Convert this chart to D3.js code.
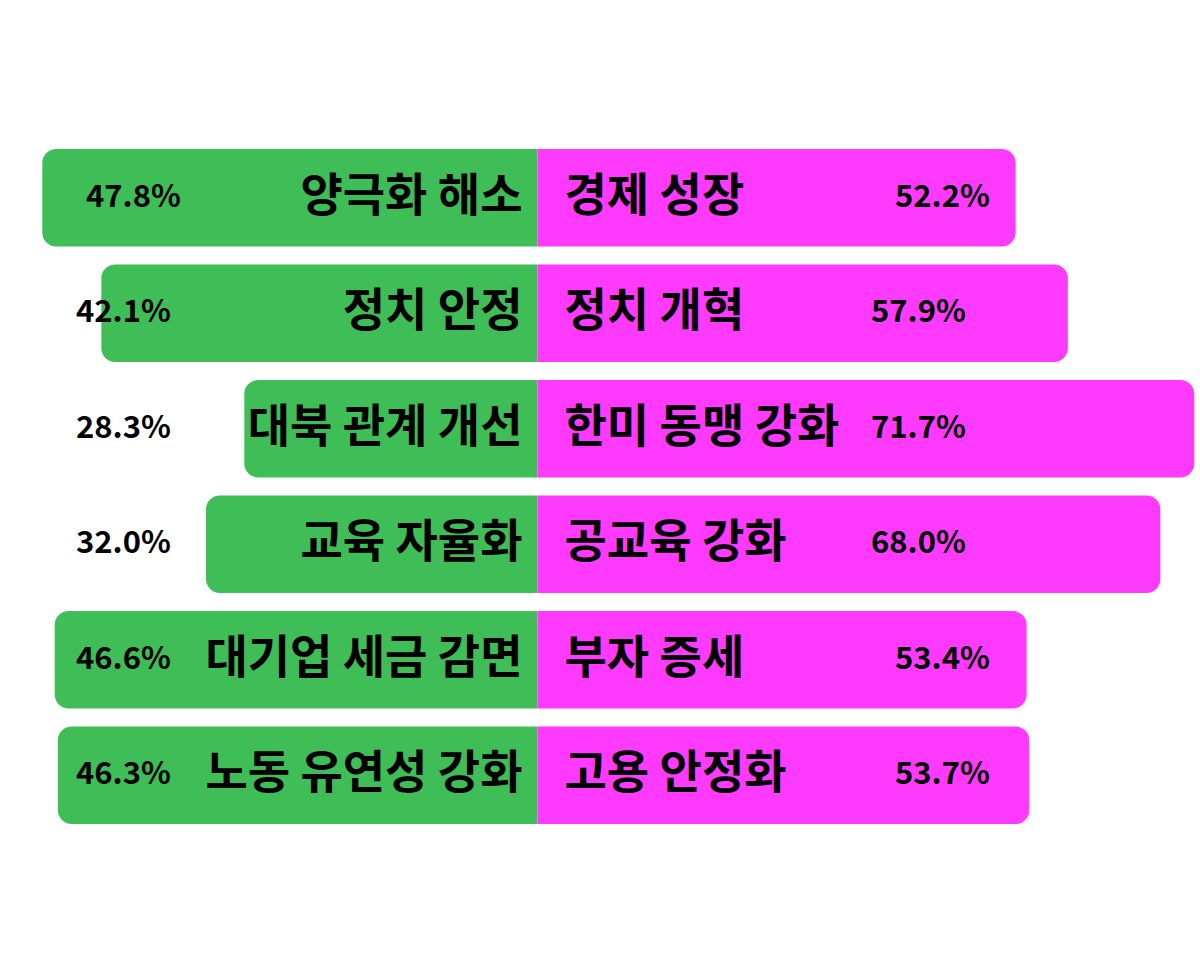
<!DOCTYPE html>
<html>
<head>
<meta charset="utf-8">
<script src="https://cdn.jsdelivr.net/npm/d3@7"></script>
<style>
  body { margin: 0; background: #fff; }
  text { font-family: "Noto Sans CJK KR", "Noto Sans", sans-serif; font-weight: 700; fill: #000; }
</style>
</head>
<body>
<svg></svg>
<script>
// left side (green) and right side (magenta) categories and shares
let leftLabels = ["양극화 해소", "정치 안정", "대북 관계 개선", "교육 자율화", "대기업 세금 감면", "노동 유연성 강화"];
let rightLabels = ["경제 성장", "정치 개혁", "한미 동맹 강화", "공교육 강화", "부자 증세", "고용 안정화"];
let leftValues = [47.8, 42.1, 28.3, 32.0, 46.6, 46.3];
let rightValues = [52.2, 57.9, 71.7, 68.0, 53.4, 53.7];

let width = 1200;
let height = 979;
let center = 537.5;
let radius = 14;

let svg = d3.select("svg").attr("width", width).attr("height", height);

let rows = d3.range(leftLabels.length);

let yScale = d3.scaleBand()
  .domain(rows)
  .range([149, 824])
  .paddingInner(0.156)
  .paddingOuter(0);

let leftScale = d3.scaleLinear().domain([0, 50]).range([0, 518]);
let rightScale = d3.scaleLinear().domain([0, 75]).range([0, 687]);

// rect with rounded corners only on the outer side
let halfRound = (x0, x1, y, h, r, side) => {
  let p = d3.path();
  if (side === "left") {
    p.moveTo(x1, y);
    p.lineTo(x0 + r, y);
    p.arcTo(x0, y, x0, y + r, r);
    p.lineTo(x0, y + h - r);
    p.arcTo(x0, y + h, x0 + r, y + h, r);
    p.lineTo(x1, y + h);
  } else {
    p.moveTo(x0, y);
    p.lineTo(x1 - r, y);
    p.arcTo(x1, y, x1, y + r, r);
    p.lineTo(x1, y + h - r);
    p.arcTo(x1, y + h, x1 - r, y + h, r);
    p.lineTo(x0, y + h);
  }
  p.closePath();
  return p.toString();
};

svg.selectAll(".bar-left")
  .data(rows)
  .enter()
  .append("path")
  .attr("class", "bar-left")
  .attr("fill", "#3fbd57")
  .attr("d", (i) => halfRound(center - leftScale(leftValues[i]), center, yScale(i), yScale.bandwidth(), radius, "left"));

svg.selectAll(".bar-right")
  .data(rows)
  .enter()
  .append("path")
  .attr("class", "bar-right")
  .attr("fill", "#fd3afd")
  .attr("d", (i) => halfRound(center, center + rightScale(rightValues[i]), yScale(i), yScale.bandwidth(), radius, "right"));

let mid = (i) => yScale(i) + yScale.bandwidth() / 2;

svg.selectAll(".cat-left")
  .data(rows)
  .enter()
  .append("text")
  .attr("class", "cat-left")
  .attr("x", center - 15)
  .attr("y", (i) => mid(i) + 13)
  .attr("text-anchor", "end")
  .style("font-size", "46px")
  .text((i) => leftLabels[i]);

svg.selectAll(".cat-right")
  .data(rows)
  .enter()
  .append("text")
  .attr("class", "cat-right")
  .attr("x", center + 27)
  .attr("y", (i) => mid(i) + 13)
  .attr("text-anchor", "start")
  .style("font-size", "46px")
  .text((i) => rightLabels[i]);

svg.selectAll(".pct-left")
  .data(rows)
  .enter()
  .append("text")
  .attr("class", "pct-left")
  .attr("x", (i) => i === 0 ? 86 : 76)
  .attr("y", (i) => mid(i) + 9)
  .style("font-size", "31px")
  .text((i) => leftValues[i].toFixed(1) + "%");

svg.selectAll(".pct-right")
  .data(rows)
  .enter()
  .append("text")
  .attr("class", "pct-right")
  .attr("x", (i) => rightValues[i] < 55 ? 895 : 871)
  .attr("y", (i) => mid(i) + 9)
  .style("font-size", "31px")
  .text((i) => rightValues[i].toFixed(1) + "%");
</script>
</body>
</html>
